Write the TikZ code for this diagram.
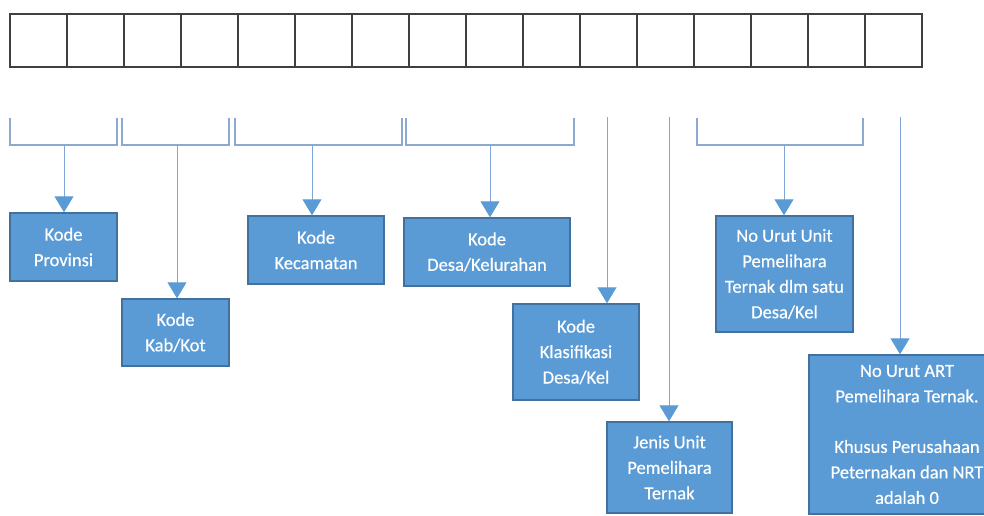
\documentclass[tikz,border=0pt]{standalone}
\usepackage{fontspec}
\setmainfont{Carlito}
\newfontfamily\boxfont[FakeBold=0.4]{Carlito}
\usetikzlibrary{arrows.meta}
\definecolor{boxfill}{HTML}{5B9BD5}
\definecolor{boxline}{HTML}{41719C}
\definecolor{brk}{HTML}{8EA9CF}
\definecolor{lineblue}{HTML}{7FA6D8}
\definecolor{cellline}{HTML}{404040}
\tikzset{
  cell/.style={draw=cellline, line width=1.1pt, minimum width=57pt, minimum height=53pt, inner sep=0pt},
  infobox/.style={draw=boxline, line width=1.4pt, fill=boxfill, text=white, align=center,
     inner sep=0pt, font=\boxfont\fontsize{18.5}{25.5}\selectfont},
  bracket/.style={draw=brk, line width=1.1pt},
  conn/.style={draw=lineblue, line width=0.9pt, -{Triangle[width=19pt,length=16pt,color=boxfill]}},
}
\begin{document}
\begin{tikzpicture}[x=1pt,y=-1pt]
\useasboundingbox (0,0) rectangle (984,516);
\clip (0,0) rectangle (984,516);
% top row of cells
\foreach \i in {1,...,16}{
  \node[cell] (c\i) at ({10+57*(\i-1)+28.5},40.5) {};
}
% boxes
\node[infobox, minimum width=107pt, minimum height=68pt] (prov) at (63.5,247) {Kode\\Provinsi};
\node[infobox, minimum width=107pt, minimum height=67pt] (kab) at (175.5,332.5) {Kode\\Kab/Kot};
\node[infobox, minimum width=136pt, minimum height=68pt] (kec) at (316,250) {Kode\\Kecamatan};
\node[infobox, minimum width=166pt, minimum height=68pt] (desa) at (487,252) {Kode\\Desa/Kelurahan};
\node[infobox, minimum width=126pt, minimum height=96pt] (klas) at (576,352) {Kode\\Klasifikasi\\Desa/Kel};
\node[infobox, minimum width=125pt, minimum height=91pt] (jenis) at (669.5,467.5) {Jenis Unit\\Pemelihara\\Ternak};
\node[infobox, minimum width=137pt, minimum height=116pt] (unit) at (784.5,274) {No Urut Unit\\Pemelihara\\Ternak dlm satu\\Desa/Kel};
\node[infobox, minimum width=196pt, minimum height=159pt] (art) at (907,434.5) {No Urut ART\\Pemelihara Ternak.\\[25pt]Khusus Perusahaan\\Peternakan dan NRT\\adalah 0};
% brackets
\coordinate (b1) at (64,145);
\coordinate (b2) at (177,145);
\coordinate (b3) at (312,145);
\coordinate (b4) at (490,145);
\coordinate (b5) at (784,145);
\coordinate (s1) at (607,117);
\coordinate (s2) at (669,117);
\coordinate (s3) at (900,117);
\draw[bracket] (10,118) |- (117,145) -- (117,118);
\draw[bracket] (122,118) |- (229,145) -- (229,118);
\draw[bracket] (235,118) |- (402,145) -- (402,118);
\draw[bracket] (406,118) |- (574,145) -- (574,118);
\draw[bracket] (697,118) |- (863,145) -- (863,118);
% connectors
\draw[conn] (b1) -- (b1 |- prov.north);
\draw[conn] (b2) -- (b2 |- kab.north);
\draw[conn] (b3) -- (b3 |- kec.north);
\draw[conn] (b4) -- (b4 |- desa.north);
\draw[conn] (s1) -- (s1 |- klas.north);
\draw[conn] (s2) -- (s2 |- jenis.north);
\draw[conn] (b5) -- (b5 |- unit.north);
\draw[conn] (s3) -- (s3 |- art.north);
\end{tikzpicture}
\end{document}
